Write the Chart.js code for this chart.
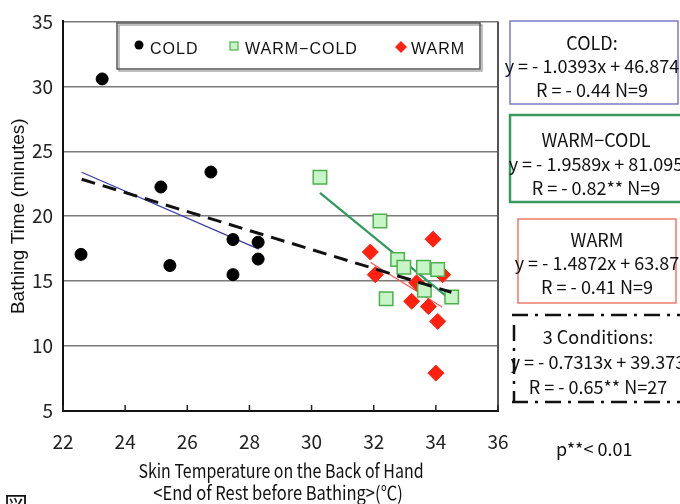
<!DOCTYPE html>
<html>
<head>
<meta charset="utf-8">
<script src="https://cdn.jsdelivr.net/npm/chart.js@4"></script>
<style>
  html, body { margin: 0; padding: 0; background: #fff; }
  #wrap { width: 680px; height: 504px; position: relative; }
</style>
</head>
<body>
<div id="wrap"><canvas id="bathChart" width="680" height="504"></canvas></div>
<script>
// skin temperature (x) vs bathing time (y) for each condition
const coldX = [22.58, 23.26, 25.15, 25.44, 26.76, 27.47, 27.47, 28.28, 28.28];
const coldY = [17.06, 30.57, 22.25, 16.2, 23.4, 18.2, 15.5, 18.0, 16.7];
const warmColdX = [30.27, 32.2, 32.77, 32.97, 32.4, 33.6, 34.06, 33.63, 34.51];
const warmColdY = [23.0, 19.63, 16.66, 16.07, 13.65, 16.07, 15.9, 14.29, 13.78];
const warmX = [33.91, 31.89, 32.05, 34.22, 33.38, 33.22, 33.76, 34.06, 34.0];
const warmY = [18.23, 17.24, 15.5, 15.5, 14.87, 13.45, 13.04, 11.9, 7.92];

// regression lines: slope, intercept, x from, x to
const coldFit = [-1.0393, 46.874, 22.6, 28.3];
const warmColdFit = [-1.9589, 81.095, 30.27, 34.5];
const warmFit = [-1.4872, 63.87, 31.9, 34.2];
const allFit = [-0.7313, 39.373, 22.6, 34.5];

const fitTitles = ["COLD:", "WARM\u2212CODL", "WARM", "3 Conditions:"];
const fitR = ["- 0.44", "- 0.82**", "- 0.41", "- 0.65**"];
const fitN = [9, 9, 9, 27];

const legendNames = ["COLD", "WARM\u2212COLD", "WARM"];
const xTicks = [22, 24, 26, 28, 30, 32, 34, 36];
const yTicks = [5, 10, 15, 20, 25, 30, 35];
const xTitle = ["Skin Temperature on the Back of Hand", "<End of Rest before Bathing>(\u2103)"];

const NARROW = "'Noto Sans CJK JP', 'Liberation Sans', sans-serif";
const WIDE = "'Liberation Sans', sans-serif";

function pairs(xs, ys) {
  return xs.map((x, i) => ({ x: x, y: ys[i] }));
}

function fitLine(fit) {
  const [slope, intercept, from, to] = fit;
  return [from, to].map((x) => ({ x: x, y: slope * x + intercept }));
}

function fitText(fit) {
  return "y = - " + Math.abs(fit[0]) + "x + " + fit[1];
}

// text squeezed sideways, for the condensed look of the axis title
function squeezed(ctx, text, cx, cy, sx) {
  ctx.save();
  ctx.translate(cx, cy);
  ctx.scale(sx, 1);
  ctx.fillText(text, 0, 0);
  ctx.restore();
}

// legend box, equation boxes and the small extras around the plot
const extras = {
  id: "extras",
  afterDraw(chart) {
    const ctx = chart.ctx;
    const area = chart.chartArea;
    const xs = chart.scales.x;
    ctx.save();

    // right frame of the plot
    ctx.strokeStyle = "#555";
    ctx.lineWidth = 2;
    ctx.beginPath();
    ctx.moveTo(area.right, area.top);
    ctx.lineTo(area.right, area.bottom);
    ctx.stroke();

    // x ticks point into the plot
    ctx.strokeStyle = "#222";
    ctx.lineWidth = 1.5;
    xTicks.forEach((v) => {
      const px = xs.getPixelForValue(v);
      ctx.beginPath();
      ctx.moveTo(px, area.bottom);
      ctx.lineTo(px, area.bottom - 6);
      ctx.stroke();
    });

    // x axis title, two lines
    ctx.fillStyle = "#111";
    ctx.font = "19px " + NARROW;
    ctx.textAlign = "center";
    ctx.textBaseline = "middle";
    squeezed(ctx, xTitle[0], 281, 471, 0.84);
    squeezed(ctx, xTitle[1], 278, 493, 0.87);

    // legend inside the plot
    ctx.fillStyle = "#fff";
    ctx.fillRect(117, 23, 363, 46);
    ctx.strokeStyle = "#aaa";
    ctx.lineWidth = 1.5;
    ctx.strokeRect(119, 25, 363, 46);
    ctx.strokeStyle = "#555";
    ctx.strokeRect(117, 23, 363, 46);

    ctx.fillStyle = "#000";
    ctx.beginPath();
    ctx.arc(139, 45, 4.5, 0, Math.PI * 2);
    ctx.fill();
    ctx.fillStyle = "#c8f5c8";
    ctx.strokeStyle = "#4cb04c";
    ctx.lineWidth = 1.2;
    ctx.fillRect(230, 42, 8, 8);
    ctx.strokeRect(230, 42, 8, 8);
    ctx.fillStyle = "#ff2010";
    ctx.beginPath();
    ctx.moveTo(395, 47);
    ctx.lineTo(401, 41);
    ctx.lineTo(407, 47);
    ctx.lineTo(401, 53);
    ctx.closePath();
    ctx.fill();

    ctx.fillStyle = "#111";
    ctx.font = "16px " + WIDE;
    ctx.letterSpacing = "1px";
    ctx.textAlign = "left";
    ctx.fillText(legendNames[0], 150, 50);
    ctx.fillText(legendNames[1], 245, 50);
    ctx.fillText(legendNames[2], 411, 50);
    ctx.letterSpacing = "0px";

    // equation boxes
    const boxes = [
      { l: 510, t: 21, r: 678, b: 104, color: "#7b7bc8", lw: 1.5, cx: 592, ys: [43, 66, 90] },
      { l: 510, t: 115, r: 682, b: 202, color: "#3a9a60", lw: 2.5, cx: 596, ys: [140, 164, 188] },
      { l: 518, t: 219, r: 676, b: 303, color: "#f07a6a", lw: 1.5, cx: 597, ys: [240, 263, 287] },
      { l: 514, t: 315, r: 682, b: 402, color: "#111", lw: 2.5, cx: 598, ys: [337, 362, 387], dashDot: true },
    ];
    const fits = [coldFit, warmColdFit, warmFit, allFit];
    boxes.forEach((bx, i) => {
      ctx.strokeStyle = bx.color;
      ctx.lineWidth = bx.lw;
      if (bx.dashDot) {
        ctx.setLineDash([16, 7, 3, 7]);
        ctx.beginPath();
        ctx.moveTo(bx.l - 2, bx.t);
        ctx.lineTo(bx.r, bx.t);
        ctx.moveTo(bx.l - 2, bx.b);
        ctx.lineTo(bx.r, bx.b);
        ctx.moveTo(bx.l, bx.t + 10);
        ctx.lineTo(bx.l, bx.b);
        ctx.stroke();
        ctx.setLineDash([]);
      } else {
        ctx.strokeRect(bx.l, bx.t, bx.r - bx.l, bx.b - bx.t);
      }
      ctx.fillStyle = "#111";
      ctx.font = "18px " + NARROW;
      ctx.textAlign = "center";
      ctx.fillText(fitTitles[i], bx.cx, bx.ys[0]);
      ctx.fillText(fitText(fits[i]), bx.cx, bx.ys[1]);
      ctx.fillText("R = " + fitR[i] + " N=" + fitN[i], bx.cx, bx.ys[2]);
    });

    ctx.font = "18px " + NARROW;
    ctx.textAlign = "left";
    ctx.fillText("p**< 0.01", 556, 449);

    ctx.font = "24px 'Noto Sans CJK JP'";
    ctx.textBaseline = "alphabetic";
    ctx.fillText("\u56f3", 4, 514);
    ctx.restore();
  },
};

new Chart(document.getElementById("bathChart").getContext("2d"), {
  type: "scatter",
  data: {
    datasets: [
      {
        label: legendNames[0],
        data: pairs(coldX, coldY),
        pointStyle: "circle",
        pointRadius: 6,
        backgroundColor: "#000",
        borderColor: "#000",
        order: 1,
      },
      {
        label: legendNames[1],
        data: pairs(warmColdX, warmColdY),
        pointStyle: "rect",
        pointRadius: 9.5,
        backgroundColor: "#c8f5c8",
        borderColor: "#4cb04c",
        borderWidth: 1.5,
        order: 1,
      },
      {
        label: legendNames[2],
        data: pairs(warmX, warmY),
        pointStyle: "rectRot",
        pointRadius: 8,
        backgroundColor: "#ff2010",
        borderColor: "#ff2010",
        borderWidth: 1,
        order: 1,
      },
      {
        label: "COLD fit",
        data: fitLine(coldFit),
        showLine: true,
        pointRadius: 0,
        borderColor: "#3a3aa8",
        borderWidth: 1.2,
        order: 2,
      },
      {
        label: "WARM-COLD fit",
        data: fitLine(warmColdFit),
        showLine: true,
        pointRadius: 0,
        borderColor: "#2e9a5e",
        borderWidth: 2.2,
        order: 2,
      },
      {
        label: "WARM fit",
        data: fitLine(warmFit),
        showLine: true,
        pointRadius: 0,
        borderColor: "#ff5050",
        borderWidth: 1.2,
        order: 2,
      },
      {
        label: "3 conditions fit",
        data: fitLine(allFit),
        showLine: true,
        pointRadius: 0,
        borderColor: "#111",
        borderWidth: 3,
        borderDash: [14, 8],
        order: 0,
      },
    ],
  },
  options: {
    responsive: false,
    animation: false,
    layout: { padding: { top: 18, right: 182, left: 0, bottom: 0 } },
    plugins: {
      legend: { display: false },
      tooltip: { enabled: false },
    },
    scales: {
      x: {
        type: "linear",
        min: 22,
        max: 36,
        afterFit: (scale) => { scale.height = 93; },
        afterBuildTicks: (scale) => { scale.ticks = xTicks.map((v) => ({ value: v })); },
        grid: { display: false, drawTicks: false },
        border: { color: "#111", width: 2 },
        ticks: { color: "#222", font: { family: NARROW, size: 19 }, padding: 19 },
      },
      y: {
        min: 5,
        max: 35,
        afterFit: (scale) => { scale.width = 63; },
        afterBuildTicks: (scale) => { scale.ticks = yTicks.map((v) => ({ value: v })); },
        grid: { color: "#7a7a7a", lineWidth: 1.5, drawTicks: false },
        border: { color: "#111", width: 2 },
        ticks: { color: "#222", font: { family: NARROW, size: 19 }, padding: 10 },
        title: {
          display: true,
          text: "Bathing Time (minutes)",
          color: "#111",
          font: { family: WIDE, size: 19 },
          padding: { top: 7, bottom: 0 },
        },
      },
    },
  },
  plugins: [extras],
});
</script>
</body>
</html>
